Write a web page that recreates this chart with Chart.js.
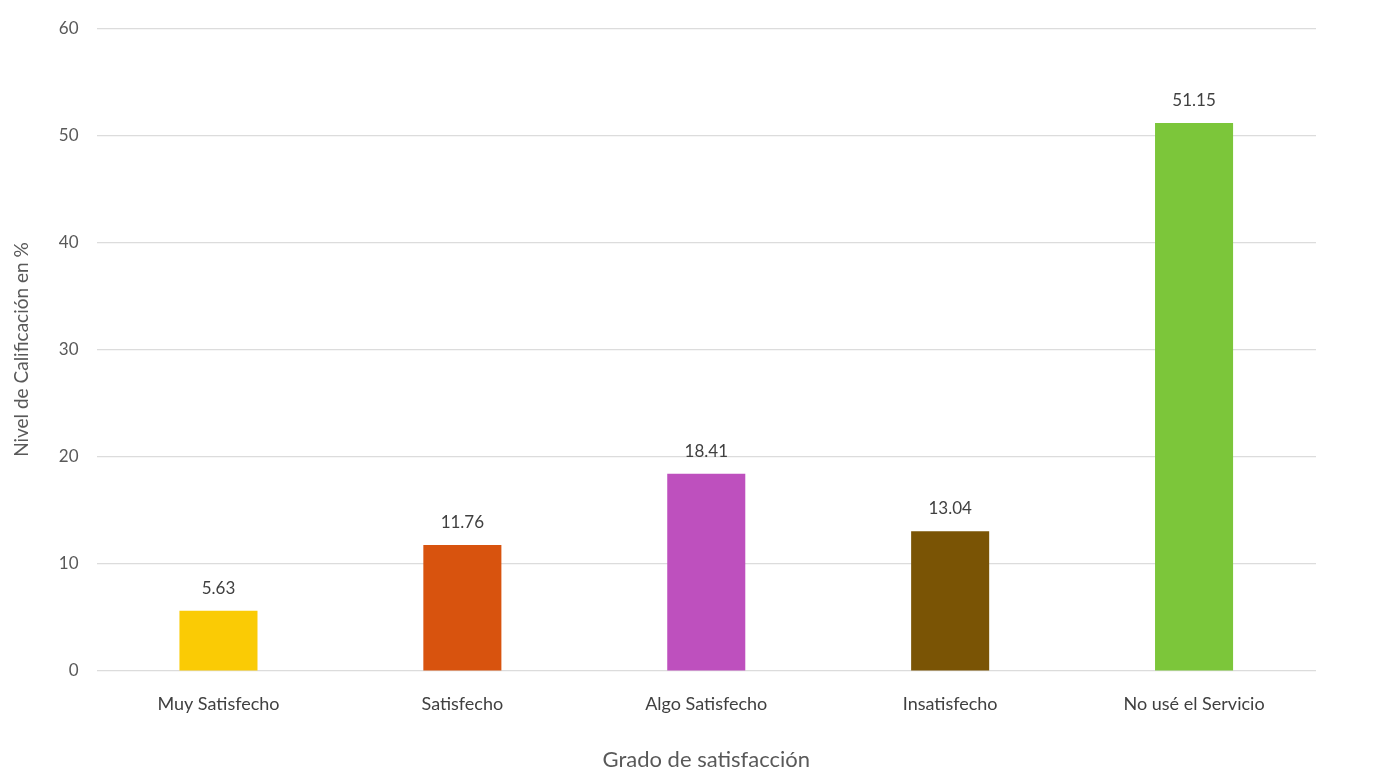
<!DOCTYPE html>
<html>
<head>
<meta charset="utf-8">
<script src="https://cdn.jsdelivr.net/npm/chart.js@4"></script>
<style>
  html, body { margin: 0; padding: 0; background: #ffffff; }
  #wrap { position: relative; width: 1378px; height: 781px; }
</style>
</head>
<body>
<div id="wrap"><canvas id="chart"></canvas></div>
<script>
// Datos del gráfico
var categorias = ['Muy Satisfecho', 'Satisfecho', 'Algo Satisfecho', 'Insatisfecho', 'No usé el Servicio'];
var porcentajes = [5.63, 11.76, 18.41, 13.04, 51.15];
var colores = ['#FACB05', '#D8530E', '#BE50BE', '#7A5405', '#7CC63A'];
var ticksY = [0, 10, 20, 30, 40, 50, 60];

var gris = '#595959';
var fuente = 'Lato, "Open Sans", sans-serif';

// Etiquetas de valor encima de cada barra
var etiquetasValor = {
  id: 'etiquetasValor',
  afterDatasetsDraw: function (chart) {
    var ctx = chart.ctx;
    var meta = chart.getDatasetMeta(0);
    ctx.save();
    ctx.fillStyle = '#404040';
    ctx.font = '17px ' + fuente;
    ctx.textAlign = 'center';
    ctx.textBaseline = 'bottom';
    meta.data.forEach(function (bar, i) {
      ctx.fillText(porcentajes[i].toFixed(2), bar.x, bar.y - 14);
    });
    ctx.restore();
  }
};

new Chart(document.getElementById('chart'), {
  type: 'bar',
  data: {
    labels: categorias,
    datasets: [{
      data: porcentajes,
      backgroundColor: colores,
      borderWidth: 0,
      barPercentage: 0.32,
      categoryPercentage: 1
    }]
  },
  options: {
    responsive: true,
    maintainAspectRatio: false,
    animation: false,
    layout: { padding: { top: 26, right: 62, left: 6, bottom: 4 } },
    plugins: {
      legend: { display: false },
      tooltip: { enabled: false }
    },
    scales: {
      y: {
        min: 0,
        max: 60,
        afterBuildTicks: function (axis) {
          axis.ticks = ticksY.map(function (v) { return { value: v }; });
        },
        ticks: { color: gris, font: { size: 17, family: fuente }, padding: 18 },
        grid: { color: '#dcdcdc', lineWidth: 1.2, drawTicks: false },
        border: { display: false },
        title: {
          display: true,
          text: 'Nivel de Calificación en %',
          color: gris,
          font: { size: 19, family: fuente },
          padding: { bottom: 8 }
        }
      },
      x: {
        ticks: { color: '#404040', font: { size: 18, family: fuente }, padding: 14 },
        grid: { display: false },
        border: { display: false },
        title: {
          display: true,
          text: 'Grado de satisfacción',
          color: gris,
          font: { size: 22, family: fuente },
          padding: { top: 18 }
        }
      }
    }
  },
  plugins: [etiquetasValor]
});
</script>
</body>
</html>
